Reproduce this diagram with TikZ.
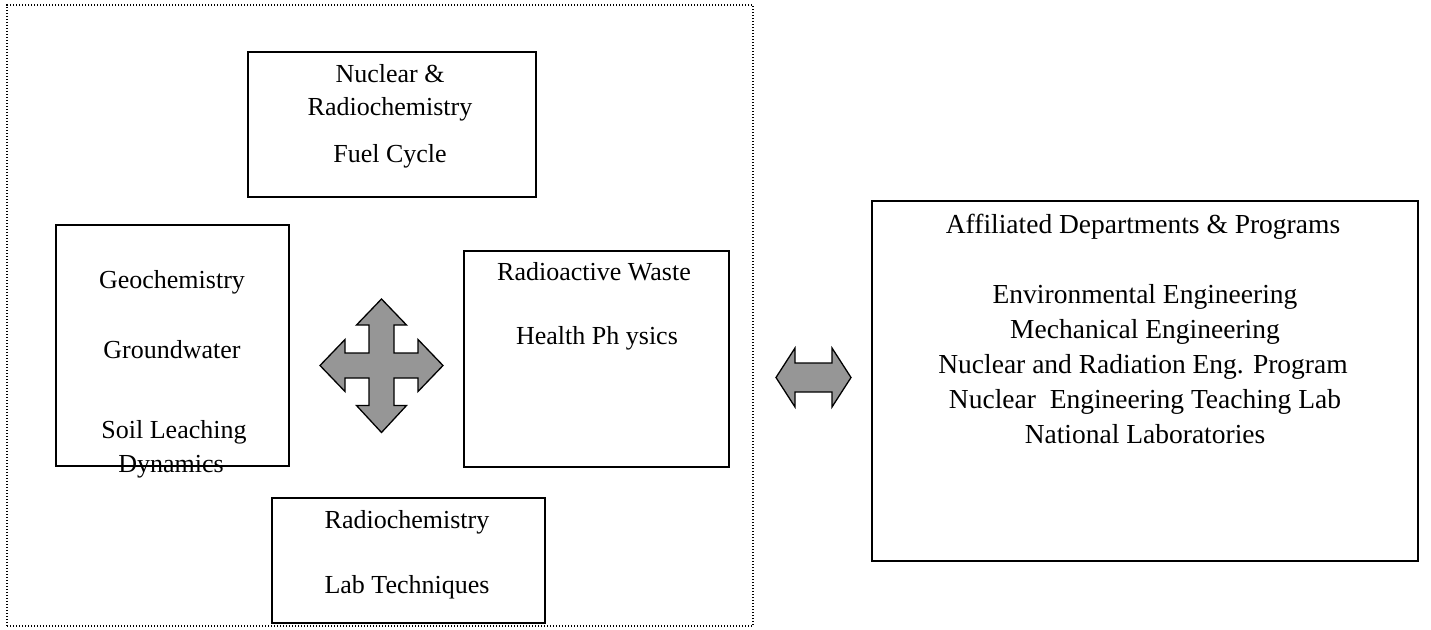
\documentclass[tikz,border=0pt]{standalone}
\usepackage{fontspec}
\setmainfont{Liberation Serif}
\definecolor{arrowgray}{RGB}{150,150,150}
\begin{document}
\begin{tikzpicture}[x=1pt,y=-1pt,
  box/.style={draw, line width=1.4pt, inner sep=0pt},
  groupbox/.style={draw, line width=1.3pt, dash pattern=on 1.3pt off 1.7pt, inner sep=0pt},
  lbl/.style={font=\fontsize{26}{30}\selectfont, inner sep=0pt, text height=0.66em, text depth=0pt, anchor=center},
  rlbl/.style={lbl, font=\fontsize{27.5}{32}\selectfont},
  blockarrow/.style={draw, line width=1.3pt, fill=arrowgray, line join=miter}]
\useasboundingbox (0,0) rectangle (1431,629);
% dotted group frame
\node[groupbox, minimum width=746pt, minimum height=621pt] (group) at (380,315.5) {};
% boxes
\node[box, minimum width=288pt, minimum height=145pt] (top) at (392,124.5) {};
\node[box, minimum width=233pt, minimum height=241pt] (left) at (172.5,345.5) {};
\node[box, minimum width=265pt, minimum height=216pt] (mid) at (596.5,359) {};
\node[box, minimum width=273pt, minimum height=125pt] (bottom) at (408.5,560.5) {};
\node[box, minimum width=546pt, minimum height=360pt] (right) at (1145,381) {};
% texts
\node[lbl] (t1) at (390,79) {Nuclear \&};
\node[lbl] (t2) at (390,112) {Radiochemistry};
\node[lbl] (t3) at (390,159) {Fuel Cycle};
\node[lbl] (l1) at (172,285) {Geochemistry};
\node[lbl] (l2) at (172,355) {Groundwater};
\node[lbl] (l3) at (174,435) {Soil Leaching};
\node[lbl] (l4) at (171,469) {Dynamics};
\node[lbl] (m1) at (594,277) {Radioactive Waste};
\node[lbl] (m2) at (597,341) {Health Ph ysics};
\node[lbl] (b1) at (407,525) {Radiochemistry};
\node[lbl] (b2) at (407,590) {Lab Techniques};
\node[rlbl] (r0) at (1143,230) {Affiliated Departments \& Programs};
\node[rlbl] (r1) at (1145,300) {Environmental Engineering};
\node[rlbl] (r2) at (1145,335) {Mechanical Engineering};
\node[rlbl] (r3) at (1143,370) {Nuclear and Radiation Eng. Program};
\node[rlbl] (r4) at (1145,405) {Nuclear\ \ Engineering Teaching Lab};
\node[rlbl] (r5) at (1145,440) {National Laboratories};
% four-way arrow
\coordinate (cross) at (381.5,365.5);
\draw[blockarrow, shift={(cross)}]
  (0,-66.5) -- (25,-40.5) -- (12.5,-40.5) -- (12.5,-12.5) -- (36.5,-12.5) -- (36.5,-26)
  -- (61.5,0) -- (36.5,26) -- (36.5,12.5) -- (12.5,12.5) -- (12.5,40) -- (25,40)
  -- (0,67) -- (-25,40) -- (-12.5,40) -- (-12.5,12.5) -- (-36.5,12.5) -- (-36.5,26)
  -- (-61.5,0) -- (-36.5,-26) -- (-36.5,-12.5) -- (-12.5,-12.5) -- (-12.5,-40.5)
  -- (-25,-40.5) -- cycle;
% double arrow
\coordinate (link) at (813.5,377.5);
\draw[blockarrow, shift={(link)}]
  (-37.5,0) -- (-18.5,-29.5) -- (-18.5,-14.5) -- (18.5,-14.5) -- (18.5,-29.5)
  -- (37.5,0) -- (18.5,29.5) -- (18.5,14.5) -- (-18.5,14.5) -- (-18.5,29.5) -- cycle;
\end{tikzpicture}
\end{document}
